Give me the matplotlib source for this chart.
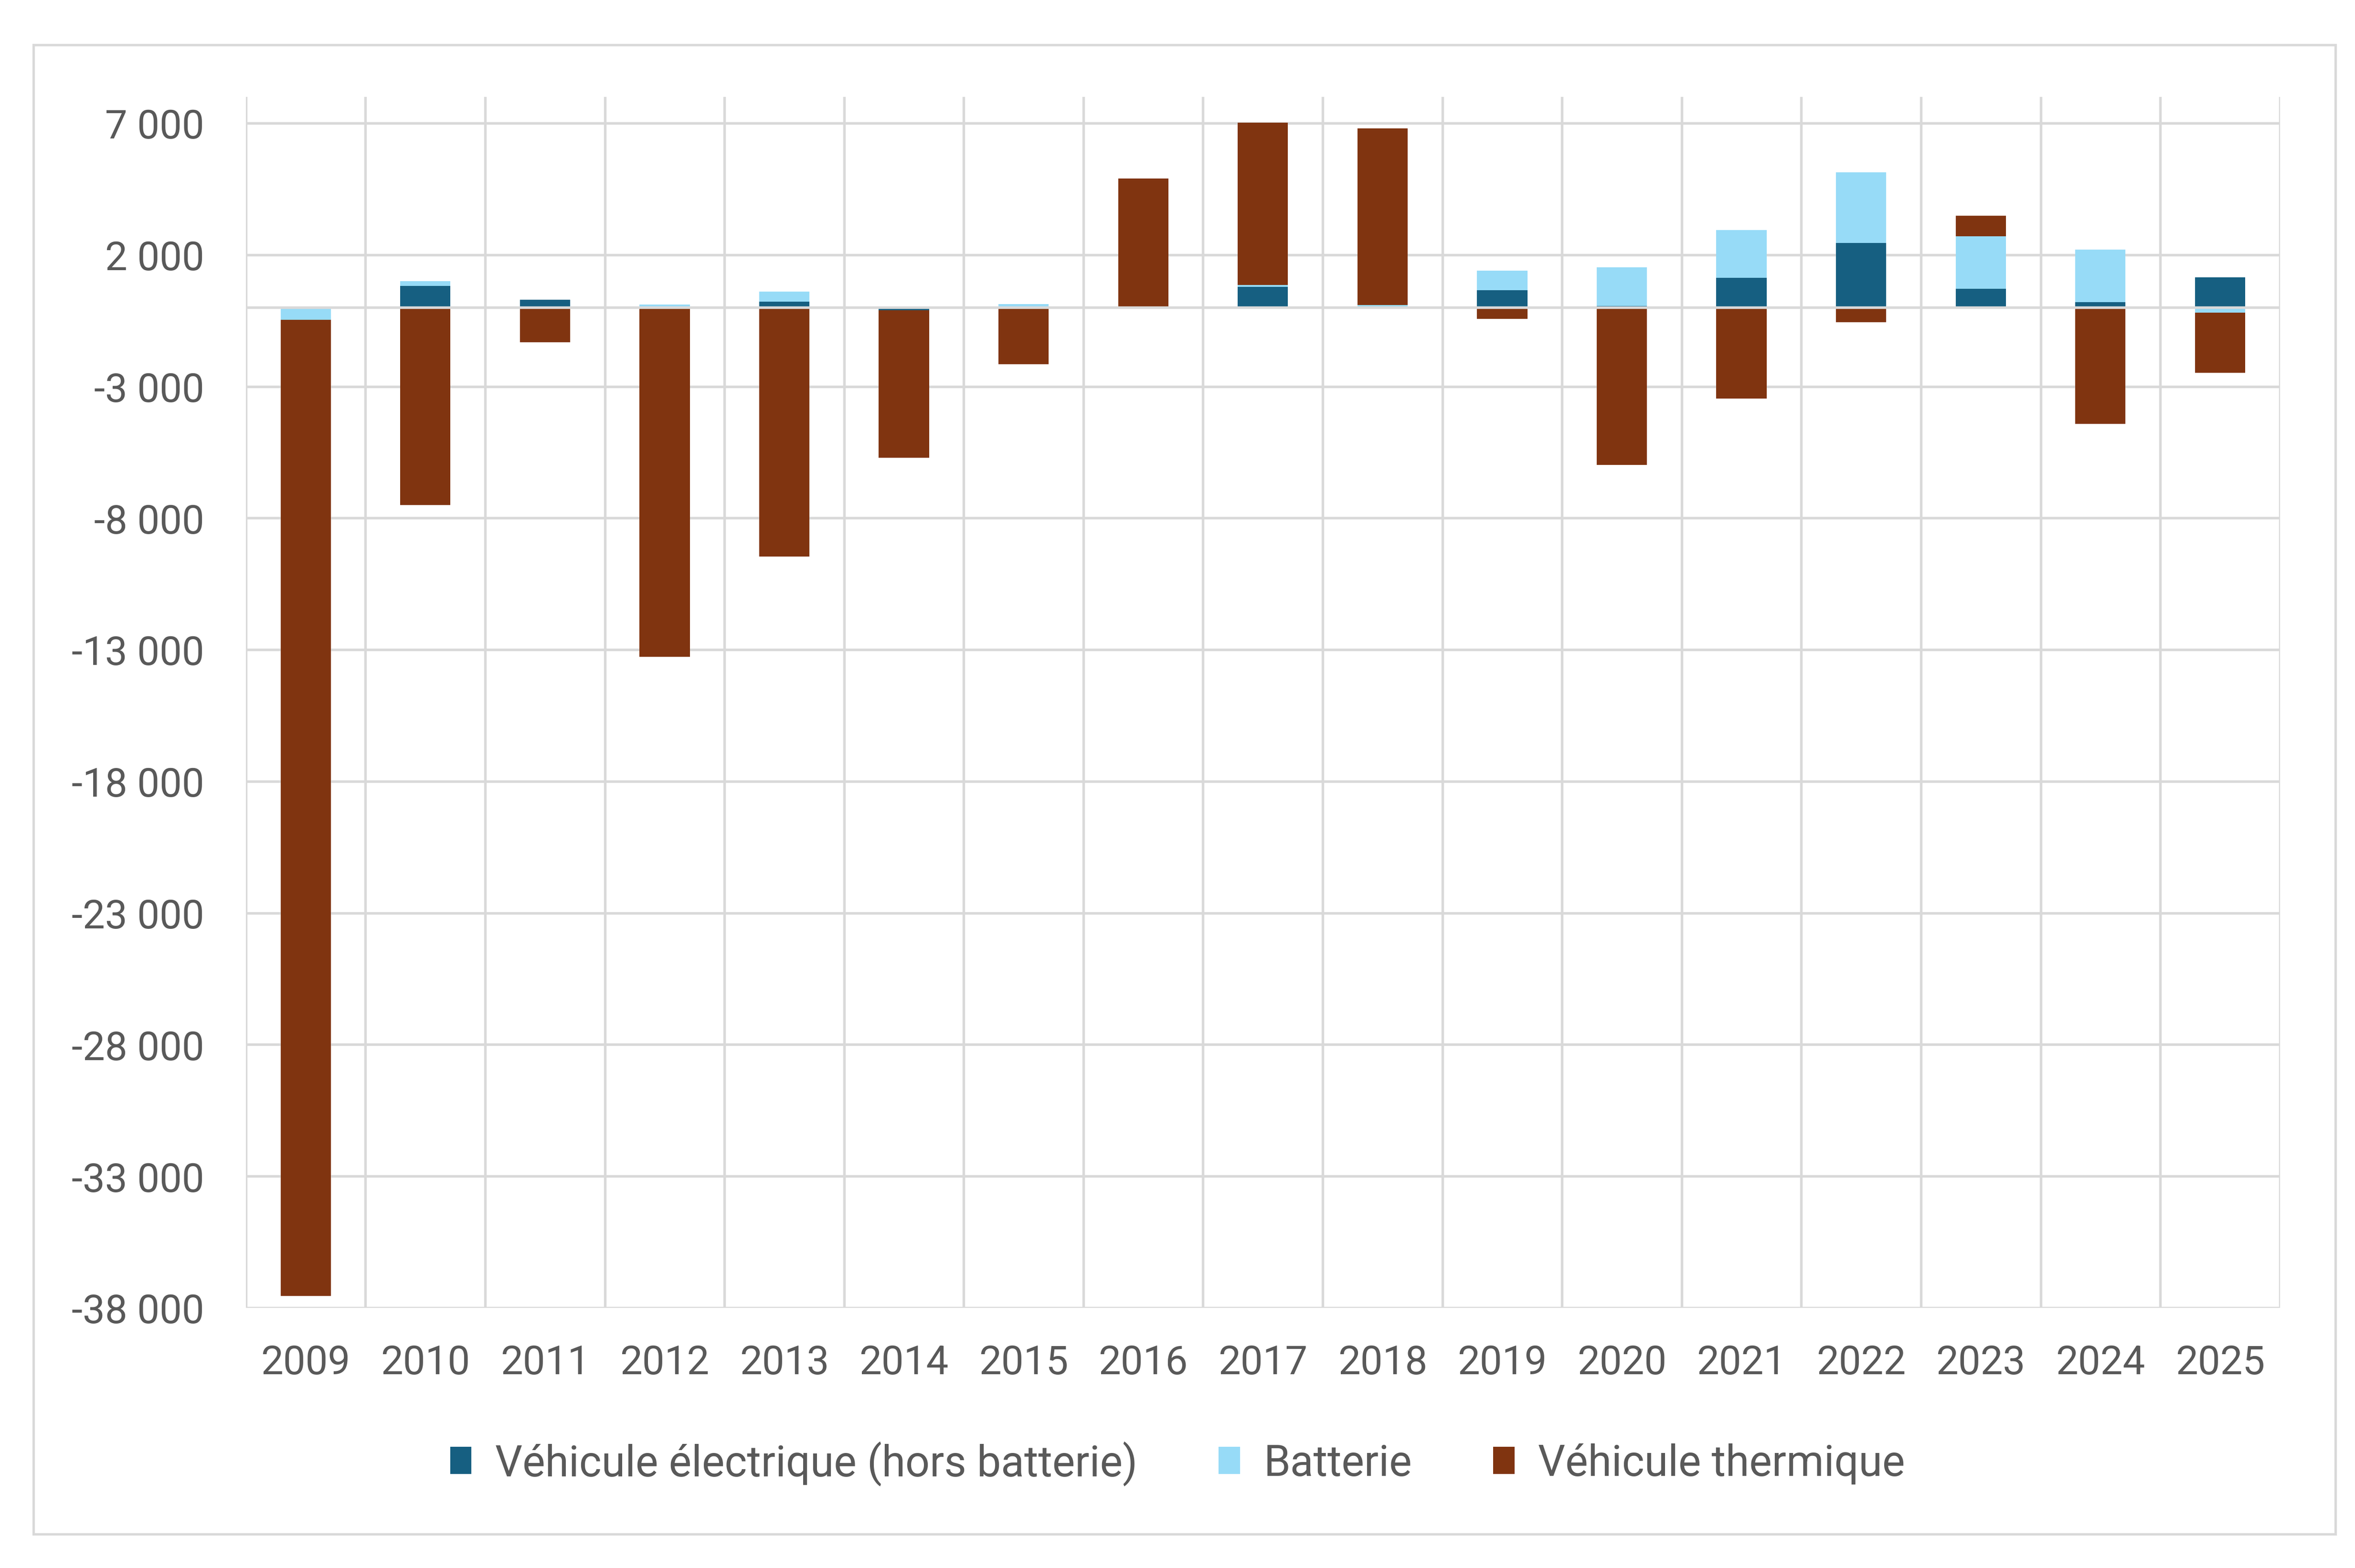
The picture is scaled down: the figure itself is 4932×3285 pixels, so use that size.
import numpy as np
import matplotlib
matplotlib.use('Agg')
import matplotlib.pyplot as plt
from matplotlib.patches import Patch, Rectangle

# Data
years = ['2009', '2010', '2011', '2012', '2013', '2014', '2015', '2016', '2017',
         '2018', '2019', '2020', '2021', '2022', '2023', '2024', '2025']
ev = [0, 820, 300, 30, 220, -100, -60, 0, 780, 0, 645, 50, 1130, 2450, 710, 200, 1150]
batterie = [-470, 180, -40, 80, 380, 0, 120, 0, 70, 100, 760, 1480, 1800, 2680, 1990, 1990, -200]
thermique = [-37080, -7500, -1290, -13270, -9460, -5610, -2100, 4900, 6170, 6700,
             -440, -5990, -3470, -560, 780, -4420, -2280]

labels = ['Véhicule électrique (hors batterie)', 'Batterie', 'Véhicule thermique']
colors = ['#165F81', '#97DBF7', '#803410']
yticks = list(range(-38000, 7001, 5000))

plt.rcParams['font.family'] = ['Roboto', 'DejaVu Sans']
text_color = '#595959'
grid_color = '#D9D9D9'

fig = plt.figure(figsize=(16.44, 10.953), dpi=300)
ax = fig.add_axes([0.1044, 0.1659, 0.8637, 0.7721])

x = np.arange(len(years))
pos_base = np.zeros(len(years))
neg_base = np.zeros(len(years))

# Excel-style stacking: positives stack up from 0, negatives stack down from 0
for values, color in zip([ev, batterie, thermique], colors):
    v = np.array(values, dtype=float)
    bottom = np.where(v >= 0, pos_base, neg_base)
    ax.bar(x, v, width=0.42, bottom=bottom, color=color, zorder=3)
    pos_base = pos_base + np.where(v > 0, v, 0)
    neg_base = neg_base + np.where(v < 0, v, 0)

ax.set_xlim(-0.5, len(years) - 0.5)
ax.set_ylim(-38000, 8000)

# gridlines
for yv in yticks:
    ax.axhline(yv, color=grid_color, lw=1.3, zorder=1)
ax.axhline(0, color=grid_color, lw=1.3, zorder=4)
for xv in np.arange(-0.5, len(years), 1.0):
    ax.axvline(xv, color=grid_color, lw=1.3, zorder=1)

for s in ax.spines.values():
    s.set_visible(False)

ax.set_yticks(yticks)
ax.set_yticklabels([f'{v:,}'.replace(',', ' ') for v in yticks])
ax.set_xticks(x)
ax.set_xticklabels(years)
ax.tick_params(axis='y', length=0, pad=21, labelsize=20, labelcolor=text_color)
ax.tick_params(axis='x', length=0, pad=18, labelsize=20, labelcolor=text_color)

handles = [Patch(facecolor=c, edgecolor='none') for c in colors]
fig.legend(handles, labels, loc='center', bbox_to_anchor=(0.5, 0.067), ncol=3,
           frameon=False, fontsize=21.5, labelcolor=text_color,
           handlelength=0.5, handleheight=0.6, handletextpad=0.55, columnspacing=1.9)

# outer frame
fig.patches.append(Rectangle((0.0142, 0.0216), 0.9775, 0.9495, transform=fig.transFigure,
                             fill=False, edgecolor=grid_color, lw=1.2))

fig.savefig('out.png', dpi=300, facecolor='white')
